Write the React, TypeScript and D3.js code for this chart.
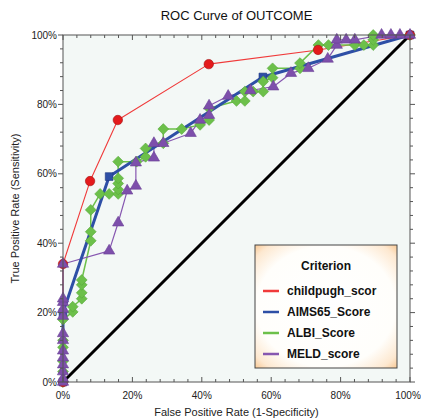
import React from "react";
import * as d3 from "d3";

// ROC points as [false positive rate, true positive rate]
const childpugh: [number, number][] = [
  [0, 0], [0, 0.34], [0.078, 0.579], [0.158, 0.755], [0.42, 0.916], [0.735, 0.957], [1, 1],
];
const aims65: [number, number][] = [
  [0, 0], [0, 0.2], [0.133, 0.592], [0.576, 0.879], [1, 1],
];
const albi: [number, number][] = [
  [0, 0], [0, 0.03], [0, 0.06], [0, 0.1], [0, 0.12], [0, 0.18], [0.028, 0.202], [0.028, 0.217],
  [0.054, 0.24], [0.054, 0.257], [0.054, 0.28], [0.054, 0.294], [0.08, 0.407], [0.08, 0.433],
  [0.08, 0.496], [0.107, 0.542], [0.133, 0.542], [0.159, 0.542], [0.159, 0.555], [0.159, 0.572],
  [0.159, 0.587], [0.159, 0.635], [0.212, 0.635], [0.238, 0.649], [0.238, 0.673], [0.289, 0.688],
  [0.289, 0.729], [0.342, 0.729], [0.395, 0.741], [0.421, 0.755], [0.421, 0.789], [0.5, 0.81],
  [0.524, 0.81], [0.524, 0.837], [0.548, 0.837], [0.577, 0.837], [0.577, 0.866], [0.604, 0.877],
  [0.604, 0.904], [0.683, 0.904], [0.683, 0.919], [0.736, 0.971], [0.765, 0.971], [0.841, 0.971],
  [0.867, 0.971], [0.894, 0.971], [0.894, 0.986], [0.894, 1], [1, 1],
];
const meld: [number, number][] = [
  [0, 0], [0, 0.01], [0, 0.03], [0, 0.05], [0, 0.07], [0, 0.09], [0, 0.12], [0, 0.14],
  [0, 0.19], [0, 0.21], [0, 0.23], [0, 0.24], [0, 0.34], [0.133, 0.378], [0.159, 0.459],
  [0.185, 0.551], [0.21, 0.565], [0.21, 0.632], [0.262, 0.646], [0.262, 0.688], [0.289, 0.688],
  [0.368, 0.717], [0.395, 0.755], [0.421, 0.769], [0.421, 0.796], [0.476, 0.824], [0.54, 0.84],
  [0.606, 0.851], [0.657, 0.89], [0.707, 0.904], [0.763, 0.931], [0.789, 0.971], [0.789, 0.986],
  [0.816, 0.986], [0.841, 0.986], [0.918, 1], [0.945, 1], [0.971, 1], [1, 1],
];

const legendNames = ["childpugh_scor", "AIMS65_Score", "ALBI_Score", "MELD_score"];
const tickValues = [0, 0.2, 0.4, 0.6, 0.8, 1];

const W = 421, H = 420;
const M = { left: 63, right: 11, top: 35, bottom: 38 };

export default function App() {
  const x = d3.scaleLinear().domain([0, 1]).range([M.left, W - M.right]);
  const y = d3.scaleLinear().domain([0, 1]).range([H - M.bottom, M.top]);
  const line = d3.line<[number, number]>().x((d) => x(d[0])).y((d) => y(d[1]));
  const minor = d3.range(0, 1.0001, 0.04);
  const pct = (v: number) => `${Math.round(v * 100)}%`;
  const font = "'Liberation Sans', Arial, sans-serif";

  const series = [
    { data: childpugh, color: "#f03a3a", width: 1.1, marker: "circle", fill: "#e41a1c", stroke: "#a01010", size: 70 },
    { data: aims65, color: "#2e4fa6", width: 3, marker: "square", fill: "#2e4fa6", stroke: "#1e3580", size: 60 },
    { data: albi, color: "#6cc04a", width: 1.5, marker: "diamond", fill: "#6cc04a", stroke: "#58a83a", size: 75 },
    { data: meld, color: "#8657b0", width: 1.2, marker: "triangle", fill: "#7d4fab", stroke: "#6a3f96", size: 55 },
  ];
  const symType: Record<string, d3.SymbolType> = {
    circle: d3.symbolCircle,
    square: d3.symbolSquare,
    diamond: d3.symbolDiamond2,
    triangle: d3.symbolTriangle,
  };
  const sym = (m: string, s: number) => d3.symbol().type(symType[m]).size(s)() as string;
  const drawOrder = [0, 2, 3, 1];
  const markerOrder = [1, 2, 0, 3];

  const x0 = M.left, x1 = W - M.right, y0 = H - M.bottom, y1 = M.top;
  const lg = { x: 255, y: 245, w: 142, h: 123 };

  return (
    <svg width={W} height={H} style={{ position: "absolute", left: 0, top: 0, fontFamily: font }}>
      <defs>
        <radialGradient id="lgbg" cx="50%" cy="50%" r="72%">
          <stop offset="0%" stopColor="#ffffff" />
          <stop offset="68%" stopColor="#fffefb" />
          <stop offset="88%" stopColor="#fde8d0" />
          <stop offset="100%" stopColor="#f7c38a" />
        </radialGradient>
      </defs>
      <rect width={W} height={H} fill="#ffffff" />
      <rect x={x0} y={y1} width={x1 - x0} height={y0 - y1} fill="#f3f8f6" />
      <text x={(x0 + x1) / 2} y={20} textAnchor="middle" fontSize={13} fill="#111">
        ROC Curve of OUTCOME
      </text>

      {/* diagonal reference */}
      <line x1={x(0)} y1={y(0)} x2={x(1)} y2={y(1)} stroke="#000" strokeWidth={3} />

      {drawOrder.map((i) => (
        <path key={"l" + i} d={line(series[i].data) as string} fill="none"
          stroke={series[i].color} strokeWidth={series[i].width} strokeLinejoin="round" />
      ))}
      {markerOrder.map((i) => (
        <g key={"m" + i}>
          {series[i].data.map((d, j) => (
            <path key={j} d={sym(series[i].marker, series[i].size)}
              transform={`translate(${x(d[0])},${y(d[1])})`}
              fill={series[i].fill} stroke={series[i].stroke} strokeWidth={0.6} />
          ))}
        </g>
      ))}

      {/* frame */}
      <rect x={x0} y={y1} width={x1 - x0} height={y0 - y1} fill="none" stroke="#555" strokeWidth={1} />
      {minor.map((v, i) => {
        const major = i % 5 === 0;
        const len = major ? 5 : 3;
        return (
          <g key={"t" + i} stroke="#555" strokeWidth={1}>
            <line x1={x(v)} x2={x(v)} y1={y0} y2={y0 - len} />
            <line x1={x(v)} x2={x(v)} y1={y1} y2={y1 + len} />
            <line x1={x0} x2={x0 - len} y1={y(v)} y2={y(v)} />
            <line x1={x1} x2={x1 + len} y1={y(v)} y2={y(v)} />
          </g>
        );
      })}
      {tickValues.map((v) => (
        <g key={"lab" + v} fontSize={10} fill="#222">
          <text x={x(v) - (v === 1 ? 2 : 0)} y={y0 + 17} textAnchor="middle">{pct(v)}</text>
          <text x={x0 - 6} y={y(v) + 3.5} textAnchor="end">{pct(v)}</text>
        </g>
      ))}
      <text x={(x0 + x1) / 2} y={H - 4} textAnchor="middle" fontSize={11} fill="#222">
        False Positive Rate (1-Specificity)
      </text>
      <text transform={`translate(19,${(y0 + y1) / 2}) rotate(-90)`} textAnchor="middle" fontSize={11} fill="#222">
        True Positive Rate (Sensitivity)
      </text>

      {/* legend */}
      <rect x={lg.x} y={lg.y} width={lg.w} height={lg.h} fill="url(#lgbg)" stroke="#444" strokeWidth={1} />
      <text x={lg.x + lg.w / 2} y={lg.y + 25} textAnchor="middle" fontSize={12} fontWeight="bold" fill="#111">
        Criterion
      </text>
      {legendNames.map((name, i) => (
        <g key={name}>
          <line x1={lg.x + 8} x2={lg.x + 24} y1={lg.y + 46 + i * 21} y2={lg.y + 46 + i * 21}
            stroke={series[i].color} strokeWidth={2.5} />
          <text x={lg.x + 32} y={lg.y + 50 + i * 21} fontSize={12} fontWeight="bold" fill="#111">
            {name}
          </text>
        </g>
      ))}
    </svg>
  );
}
